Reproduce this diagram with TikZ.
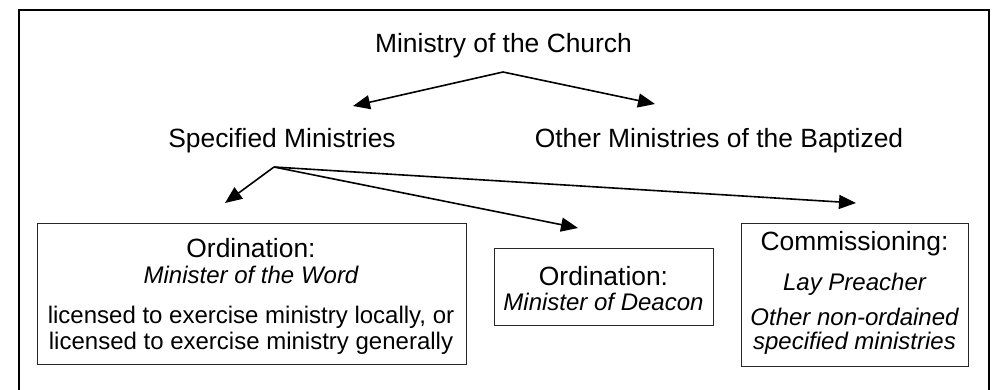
\documentclass[tikz,border=0pt]{standalone}
\usepackage{fontspec}
\setmainfont{Liberation Sans}
\usetikzlibrary{arrows.meta}
\begin{document}
\begin{tikzpicture}[x=1pt,y=-1pt,
  big/.style={inner sep=0pt,anchor=base,font=\fontsize{26.4}{30}\selectfont},
  small/.style={inner sep=0pt,anchor=base,font=\fontsize{24}{28}\selectfont},
  smallit/.style={small,font=\fontsize{24}{28}\selectfont\itshape},
  box/.style={draw=black!85,line width=1pt,inner sep=0pt},
  conn/.style={line width=1.6pt,-{Triangle[length=17pt,width=14pt]}}]
\useasboundingbox (0,0) rectangle (995,389);
\draw[line width=2pt] (19,390) -- (19,10) -- (989,10) -- (989,390);
% texts
\node[big] (church) at (503.5,52) {Ministry of the Church};
\node[big] (spec) at (282,147) {Specified Ministries};
\node[big] (other) at (719,147) {Other Ministries of the Baptized};
% boxes
\node[box,minimum width=429pt,minimum height=141pt] (word) at (251.5,293.5) {};
\node[box,minimum width=219pt,minimum height=77pt] (deacon) at (603.5,286.5) {};
\node[box,minimum width=227pt,minimum height=143pt] (comm) at (854.5,294.5) {};
% box texts
\node[big] (w1) at (251,257) {Ordination:};
\node[smallit] (w2) at (251,283) {Minister of the Word};
\node[small] (w3) at (251,323) {licensed to exercise ministry locally, or};
\node[small] (w4) at (251,349) {licensed to exercise ministry generally};
\node[big] (d1) at (603.5,285) {Ordination:};
\node[smallit] (d2) at (603.5,310) {Minister of Deacon};
\node[big] (c1) at (854.5,250) {Commissioning:};
\node[smallit] (c2) at (854.5,290) {Lay Preacher};
\node[smallit] (c3) at (854.5,325) {Other non-ordained};
\node[smallit] (c4) at (854.5,349) {specified ministries};
% connector points
\coordinate (churchfoot) at (503,72);
\coordinate (specin) at (353,106);
\coordinate (otherin) at (655,104);
\coordinate (specfoot) at (274,167);
\coordinate (wordin) at (225,203);
\coordinate (deaconin) at (578,228);
\coordinate (commin) at (856,203);
\draw[conn] (churchfoot) -- (specin);
\draw[conn] (churchfoot) -- (otherin);
\draw[conn] (specfoot) -- (wordin);
\draw[conn] (specfoot) -- (deaconin);
\draw[conn] (specfoot) -- (commin);
\end{tikzpicture}
\end{document}
